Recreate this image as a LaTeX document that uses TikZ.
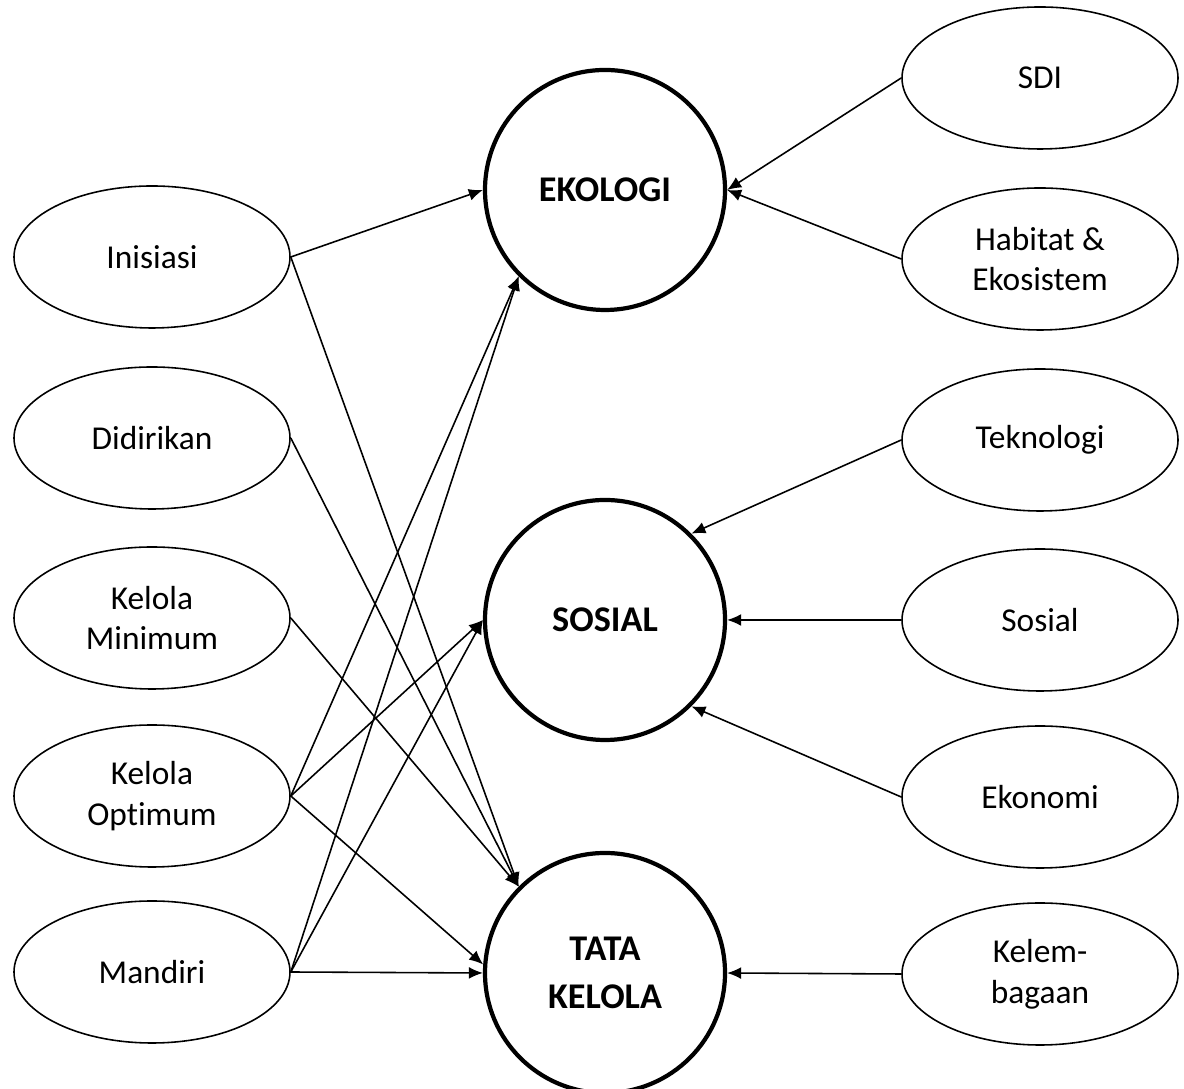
\documentclass[tikz,border=0pt]{standalone}
\usepackage{fontspec}
\setmainfont{Carlito}[Ligatures=NoCommon]
\usetikzlibrary{shapes.geometric}
\usetikzlibrary{arrows.meta}

\begin{document}
\begin{tikzpicture}[
    faktor/.style={ellipse,draw,line width=0.45pt,minimum width=2.76cm,minimum height=1.42cm,
      inner sep=0pt,align=center,font=\fontsize{9.5}{11.6}\selectfont},
    dimensi/.style={circle,draw,line width=1.2pt,minimum size=2.4cm,inner sep=0pt,
      align=center,font=\bfseries\fontsize{10.3}{13.7}\selectfont},
    panah/.style={-{Latex[length=4pt,width=3.4pt]},line width=0.45pt}]
  \useasboundingbox (0,0) rectangle (11.84,10.89);
  % dimensi di tengah
  \node[dimensi] (eko) at (6.05,8.99) {EKOLOGI};
  \node[dimensi] (sos) at (6.05,4.69) {SOSIAL};
  \node[dimensi] (tata) at (6.05,1.16) {TATA\\KELOLA};
  % tahapan di kiri
  \node[faktor] (inis) at (1.52,8.32) {Inisiasi};
  \node[faktor] (didi) at (1.52,6.51) {Didirikan};
  \node[faktor] (kmin) at (1.52,4.71) {Kelola\\Minimum};
  \node[faktor] (kopt) at (1.52,2.93) {Kelola\\Optimum};
  \node[faktor] (mand) at (1.52,1.17) {Mandiri};
  % indikator di kanan
  \node[faktor] (sdi) at (10.40,10.11) {SDI};
  \node[faktor] (hab) at (10.40,8.30) {Habitat \&\\Ekosistem};
  \node[faktor] (tek) at (10.40,6.49) {Teknologi};
  \node[faktor] (sosi) at (10.40,4.69) {Sosial};
  \node[faktor] (ekon) at (10.40,2.92) {Ekonomi};
  \node[faktor] (lemb) at (10.40,1.15) {Kelem-\\bagaan};
  % panah dari kiri
  \draw[panah] (inis.east) -- (eko.west);
  \draw[panah] (inis.east) -- (tata.north west);
  \draw[panah] (didi.east) -- (tata.north west);
  \draw[panah] (kmin.east) -- (tata.north west);
  \draw[panah] (kopt.east) -- (eko.south west);
  \draw[panah] (kopt.east) -- (sos.west);
  \draw[panah] (kopt.east) -- (tata.176);
  \draw[panah] (mand.east) -- (eko.south west);
  \draw[panah] (mand.east) -- (sos.west);
  \draw[panah] (mand.east) -- (tata.west);
  % panah dari kanan
  \draw[panah] (sdi.west) -- (eko.east);
  \draw[panah] (hab.west) -- (eko.east);
  \draw[panah] (tek.west) -- (sos.north east);
  \draw[panah] (sosi.west) -- (sos.east);
  \draw[panah] (ekon.west) -- (sos.south east);
  \draw[panah] (lemb.west) -- (tata.east);
\end{tikzpicture}
\end{document}
